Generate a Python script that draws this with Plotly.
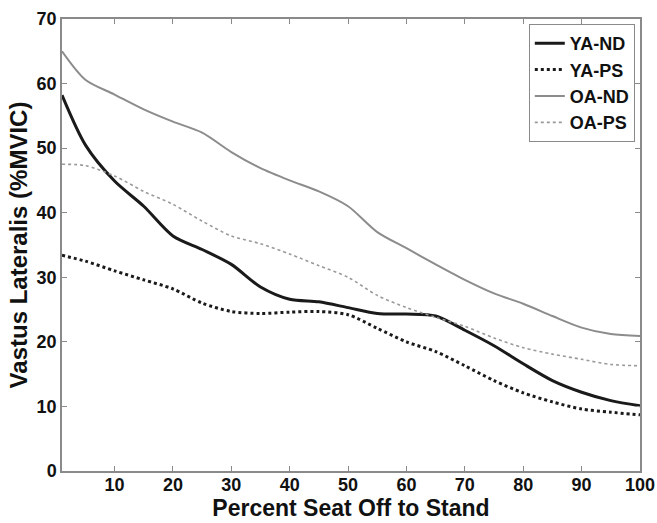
import plotly.graph_objects as go

x_pct = [1, 5, 10, 15, 20, 25, 30, 35, 40, 45, 50, 55, 60, 65, 70, 75, 80, 85, 90, 95, 100]

ya_nd = [58.2, 50.5, 44.9, 41.0, 36.4, 34.3, 32.0, 28.5, 26.6, 26.2, 25.3, 24.4, 24.3, 24.0, 21.8, 19.4, 16.6, 14.0, 12.2, 10.9, 10.1]
ya_ps = [33.4, 32.5, 31.0, 29.6, 28.2, 26.0, 24.7, 24.4, 24.6, 24.7, 24.2, 22.1, 20.0, 18.5, 16.3, 14.0, 12.1, 10.7, 9.6, 9.1, 8.7]
oa_nd = [65.0, 60.6, 58.3, 56.0, 54.1, 52.4, 49.4, 46.9, 45.0, 43.3, 41.0, 37.0, 34.5, 32.0, 29.6, 27.5, 25.9, 24.0, 22.2, 21.2, 20.9]
oa_ps = [47.5, 47.3, 45.7, 43.3, 41.3, 38.7, 36.4, 35.2, 33.6, 31.8, 30.0, 27.2, 25.3, 23.8, 22.4, 20.6, 19.1, 18.1, 17.3, 16.5, 16.3]

x_ticks = [10, 20, 30, 40, 50, 60, 70, 80, 90, 100]
y_ticks = [0, 10, 20, 30, 40, 50, 60, 70]

series = [
    ("YA-ND", ya_nd, dict(color="#1a1a1a", width=3, dash="solid")),
    ("YA-PS", ya_ps, dict(color="#1a1a1a", width=3, dash="dot")),
    ("OA-ND", oa_nd, dict(color="#8c8c8c", width=2, dash="solid")),
    ("OA-PS", oa_ps, dict(color="#9a9a9a", width=1.6, dash="dot")),
]

fig = go.Figure()
for name, ys, ln in series:
    fig.add_trace(go.Scatter(x=x_pct, y=ys, name=name, mode="lines",
                             line=dict(shape="spline", smoothing=0.8, **ln)))

font_main = "Liberation Sans, Arial, sans-serif"
axis_common = dict(
    showgrid=False, zeroline=False, showline=True, linecolor="#8a8a8a", linewidth=1.5,
    mirror="ticks", ticks="inside", ticklen=5, tickcolor="#8a8a8a", tickwidth=1,
    automargin=False,
    tickfont=dict(family=font_main, size=18, color="#111111", weight="bold"),
)

fig.update_layout(
    width=657, height=523,
    margin=dict(l=62, r=17, t=19, b=52),
    paper_bgcolor="white", plot_bgcolor="white",
    font=dict(family=font_main),
    xaxis=dict(range=[1, 100], tickvals=x_ticks, ticklabelstandoff=-3,
               title=dict(text="Percent Seat Off to Stand", standoff=2,
                          font=dict(family=font_main, size=23, color="#111111", weight="bold")),
               **axis_common),
    yaxis=dict(range=[0, 70], tickvals=y_ticks,
               title=dict(text="Vastus Lateralis (%MVIC)", standoff=2,
                          font=dict(family=font_main, size=24, color="#111111", weight="bold")),
               **axis_common),
    legend=dict(x=0.991, y=0.989, xanchor="right", yanchor="top",
                bordercolor="#8a8a8a", borderwidth=1, bgcolor="white",
                font=dict(family=font_main, size=18, color="#111111", weight="bold"),
                tracegroupgap=0, itemwidth=30),
    showlegend=True,
)

fig.write_html("out.html", config={"displayModeBar": False},
               post_script="document.body.style.margin='0';document.body.style.overflow='hidden';")
